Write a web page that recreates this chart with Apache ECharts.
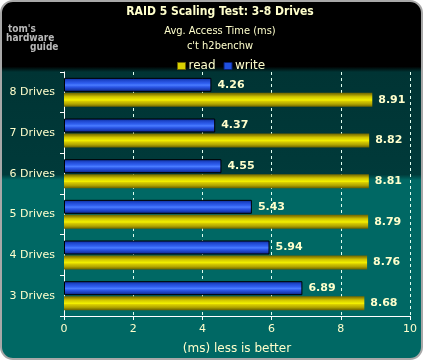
<!DOCTYPE html>
<html><head><meta charset="utf-8">
<script src="https://cdn.jsdelivr.net/npm/echarts@6/dist/echarts.min.js"></script>
<style>html,body{margin:0;padding:0;background:#fff}#c{width:424px;height:361px}</style>
</head><body><div id="c"></div>
<script>
const categories = ['3 Drives','4 Drives','5 Drives','6 Drives','7 Drives','8 Drives'];
const readValues = [8.68, 8.76, 8.79, 8.81, 8.82, 8.91];
const writeValues = [6.89, 5.94, 5.43, 4.55, 4.37, 4.26];
const seriesNames = ['read','write'];
const xMin = 0, xMax = 10, xInterval = 2;
const titleText = 'RAID 5 Scaling Test: 3-8 Drives';
const subText1 = 'Avg. Access Time (ms)';
const subText2 = "c't h2benchw";
const axisName = '(ms) less is better';

const FONT = 'DejaVu Sans';
const CREAM = '#ffffcc';
const chart = echarts.init(document.getElementById('c'), null, {renderer:'canvas'});

const yellowGrad = new echarts.graphic.LinearGradient(0,0,0,1,[
  {offset:0,color:'#6e6400'},{offset:0.14,color:'#9c9000'},{offset:0.28,color:'#d0c400'},
  {offset:0.45,color:'#e8e400'},{offset:0.52,color:'#f4f000'},{offset:0.6,color:'#d8cc00'},
  {offset:0.8,color:'#b0a400'},{offset:1,color:'#6a6000'}]);
const blueGrad = new echarts.graphic.LinearGradient(0,0,0,1,[
  {offset:0,color:'#0a2a90'},{offset:0.2,color:'#1f48d0'},{offset:0.4,color:'#3060f0'},
  {offset:0.52,color:'#4a7cff'},{offset:0.65,color:'#2c58e8'},{offset:0.85,color:'#1838b0'},{offset:1,color:'#0a2070'}]);

const labelStyle = {show:true, position:'right', distance:6, color:CREAM, fontFamily:FONT, fontWeight:'bold', fontSize:11};

chart.setOption({
  animation:false,
  backgroundColor:'#ffffff',
  graphic:[
    {type:'rect', z:-10, silent:true, shape:{x:1,y:1,width:421,height:358,r:12},
     style:{stroke:'#a8a8a8', lineWidth:2, fill:new echarts.graphic.LinearGradient(0,0,0,1,[
       {offset:0,color:'#000000'},{offset:0.185,color:'#000000'},{offset:0.2,color:'#003434'},
       {offset:0.485,color:'#003a3a'},{offset:0.5,color:'#006864'},{offset:1,color:'#006864'}])}},
    {type:'text', z:5, style:{text:titleText, x:220, y:6, textAlign:'center', fill:CREAM, font:'bold 12px "DejaVu Sans Condensed", "DejaVu Sans"'}},
    {type:'text', z:5, style:{text:subText1, x:220, y:26, textAlign:'center', fill:CREAM, font:'11px "DejaVu Sans Condensed", "DejaVu Sans"'}},
    {type:'text', z:5, style:{text:subText2, x:220, y:41, textAlign:'center', fill:CREAM, font:'11px "DejaVu Sans Condensed", "DejaVu Sans"'}},
    {type:'text', z:5, style:{text:"tom's", x:8, y:24, fill:'#b8b8b8', font:'bold 10px "DejaVu Sans Condensed"'}},
    {type:'text', z:5, style:{text:'hardware', x:6, y:33, fill:'#b8b8b8', font:'bold 10px "DejaVu Sans Condensed"'}},
    {type:'text', z:5, style:{text:'guide', x:30, y:42, fill:'#b8b8b8', font:'bold 10px "DejaVu Sans Condensed"'}}
  ],
  legend:{
    left:172, top:55, itemWidth:8, itemHeight:7, itemGap:8, icon:'rect',
    textStyle:{color:CREAM, fontFamily:FONT, fontSize:12, padding:[0,0,0,-2]},
    data:[{name:seriesNames[0], itemStyle:{color:'#d8d000', borderColor:'#6e6400', borderWidth:1}},
          {name:seriesNames[1], itemStyle:{color:'#2050e0', borderColor:'#0a2070', borderWidth:1}}]
  },
  grid:{left:64, right:14, top:72, bottom:45, containLabel:false},
  xAxis:{
    type:'value', min:xMin, max:xMax, interval:xInterval,
    name:axisName, nameLocation:'middle', nameGap:27,
    nameTextStyle:{color:CREAM, fontFamily:FONT, fontSize:12},
    axisLine:{show:true, lineStyle:{color:'#ffffff', width:1}},
    axisTick:{show:true, length:4, lineStyle:{color:'#ffffff'}},
    axisLabel:{color:CREAM, fontFamily:FONT, fontSize:11, margin:8},
    splitLine:{show:true, lineStyle:{color:'#e0fff0', type:[3,3], width:1}}
  },
  yAxis:{
    type:'category', data:categories,
    axisLine:{show:true, lineStyle:{color:'#ffffff', width:1}},
    axisTick:{show:true, length:4, lineStyle:{color:'#ffffff'}},
    axisLabel:{color:CREAM, fontFamily:FONT, fontSize:11, margin:9},
    splitLine:{show:false}
  },
  series:[
    {name:seriesNames[1], type:'bar', data:writeValues, barWidth:14, barGap:'7%',
     itemStyle:{color:blueGrad, borderColor:'#000000', borderWidth:1}, label:labelStyle},
    {name:seriesNames[0], type:'bar', data:readValues, barWidth:14, barGap:'7%',
     itemStyle:{color:yellowGrad}, label:labelStyle}
  ]
});
</script></body></html>
